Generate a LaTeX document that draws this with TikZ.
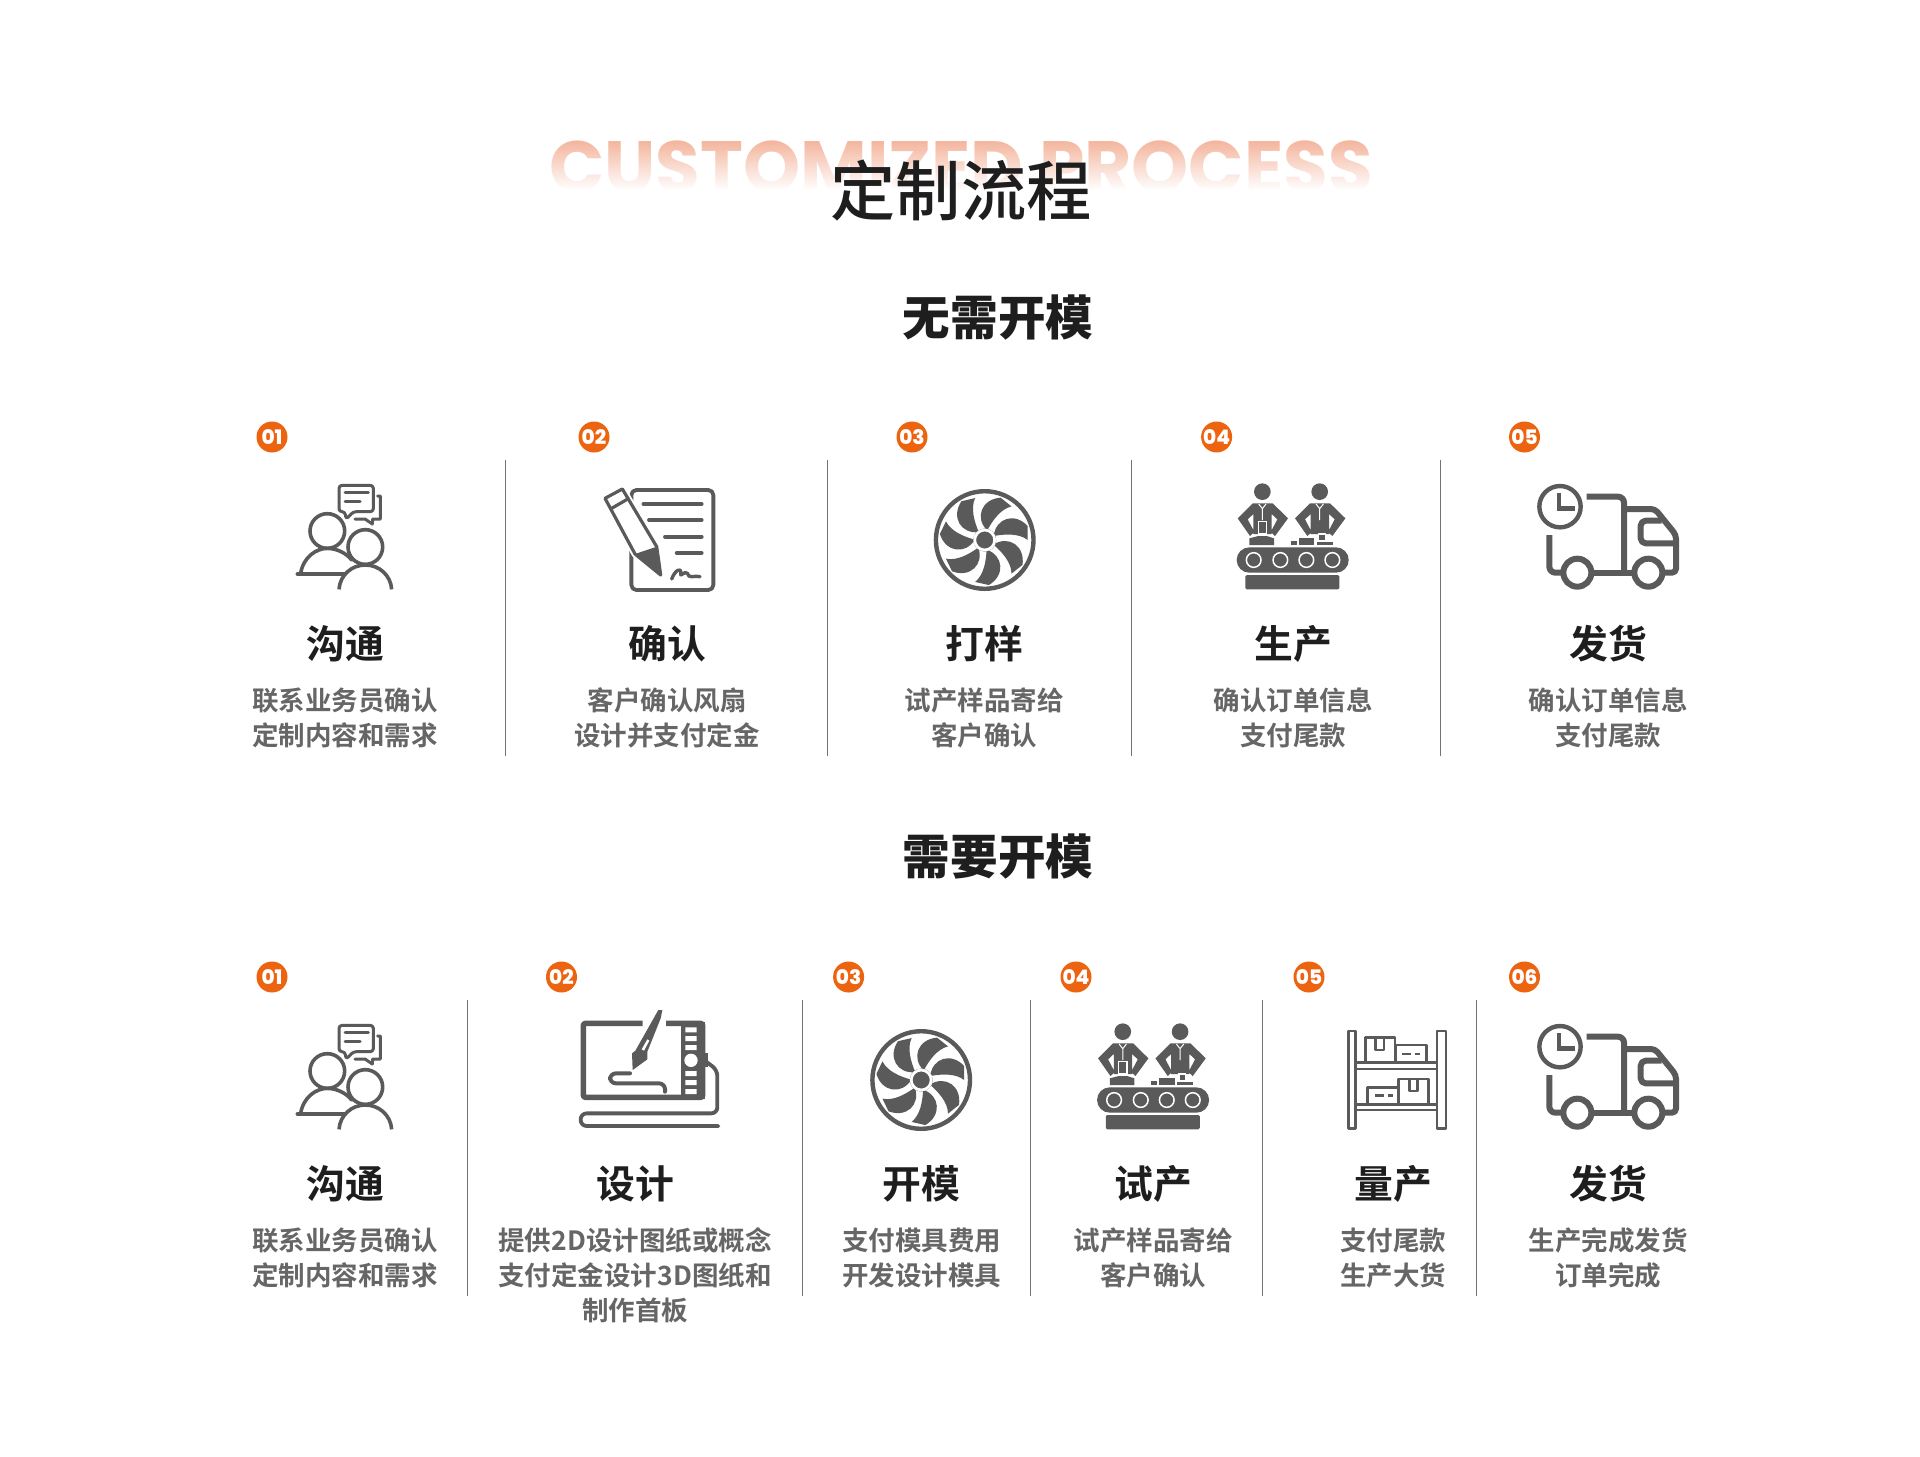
\documentclass[tikz,border=0pt]{standalone}
\usepackage{fontspec}
\usetikzlibrary{fadings}
\setmainfont{Noto Sans CJK SC}[BoldFont=* Bold]
\newfontfamily\popfont{Poppins}[BoldFont=* ExtraBold]
\newfontfamily\ghostfont{Poppins}[BoldFont=* Bold]
\newfontfamily\cjkmid{Noto Sans CJK SC Medium}
\newfontfamily\cjkblack{Noto Sans CJK SC Black}
\definecolor{iconc}{HTML}{5A5A5A}
\definecolor{orangec}{HTML}{EC6410}
\definecolor{titlec}{HTML}{1E1E1E}
\definecolor{descc}{HTML}{666666}
\definecolor{ghostc}{HTML}{F3AE94}
\tikzfading[name=fadeghost,top color=transparent!100,bottom color=transparent!0]
\tikzset{
  numdot/.style={circle,fill=orangec,minimum size=15.5pt,inner sep=0pt,text=white,font=\popfont\bfseries\fontsize{10}{10}\selectfont},
  labeltxt/.style={inner sep=0pt,text=titlec,font=\bfseries\fontsize{19.4}{22}\selectfont},
  desctxt/.style={anchor=north,inner sep=0pt,align=center,text=descc,font=\bfseries\fontsize{13.25}{17.5}\selectfont},
  headtxt/.style={inner sep=0pt,text=titlec,font=\cjkblack\fontsize{23.8}{26}\selectfont},
  divline/.style={draw=iconc!85,line width=0.6pt},
  zoomed/.style={x=0.16667pt,y=-0.16667pt},
  ic/.style={draw=iconc,line width=#1,line cap=round,line join=round},
  pics/peopleicon/.style={code={
    \begin{scope}[shift={(240,410)},zoomed]
      \draw[ic=1.5pt,rounded corners=1.5pt] (315,305)--(297,305)--(297,226)--(400,226)--(400,305)--(340,305)--(318,328)--cycle;
      \draw[ic=1.5pt] (315,248)--(385,248) (315,273)--(360,273);
      \draw[ic=1.5pt] (413,258)--(421,258)--(421,327)--(398,327)--(397,342)--(375,327)--(345,327);
      \draw[ic=1.8pt] (262,363) circle[radius=52];
      \draw[ic=1.8pt] (376,411) circle[radius=52];
      \draw[ic=1.8pt] (172,492)--(315,492);
      \draw[ic=1.8pt] (182,490) .. controls (190,440) and (230,415) .. (262,415) .. controls (290,415) and (320,430) .. (335,450);
      \draw[ic=1.8pt,line cap=butt] (297,538) .. controls (300,495) and (335,465) .. (376,465) .. controls (417,465) and (452,495) .. (455,538);
    \end{scope}}},
  pics/docicon/.style={code={
    \begin{scope}[shift={(240,410)},zoomed]
      \draw[ic=1.9pt,rounded corners=2.5pt] (1174,240) rectangle (1420,540);
      \draw[ic=1.9pt] (1210,282)--(1385,282) (1227,330)--(1385,330) (1275,380)--(1385,380) (1310,429)--(1385,429);
      \draw[white,line width=3.5pt,line join=round] (1095,265)--(1147,237)--(1250,410)--(1262,495)--(1185,432)--cycle;
      \fill[white] (1095,265)--(1147,237)--(1250,410)--(1262,495)--(1185,432)--cycle;
      \draw[ic=1.6pt] (1095,265)--(1147,237)--(1250,410)--(1262,495)--(1185,432)--cycle;
      \draw[ic=1.6pt] (1113,296)--(1165,266);
      \fill[iconc] (1185,432)--(1250,410)--(1262,495)--cycle;
      \draw[ic=1.7pt] (1295,507) .. controls (1305,480) and (1325,470) .. (1322,490) .. controls (1318,505) and (1335,480) .. (1342,490) .. controls (1345,508) and (1365,495) .. (1380,500);
    \end{scope}}},
  pics/fanicon/.style={code={
    \begin{scope}[shift={(984.7,540)},x=0.5pt,y=-0.5pt]
      \draw[iconc,line width=2.2pt] (0,0) circle[radius=48.8];
      \foreach \a in {0,51.43,102.86,154.29,205.71,257.14,308.57}{
        \fill[iconc,rotate=\a] (9,-4) .. controls (11,-22) and (30,-28) .. (43,-14) -- (43,0) .. controls (34,-7) and (20,-6) .. (9,-4) -- cycle;
      }
      \fill[iconc] (0,0) circle[radius=11.5];
      \draw[white,line width=1.4pt] (0,0) circle[radius=10];
    \end{scope}}},
  pics/workericon/.style={code={
    \begin{scope}[shift={(880,410)},zoomed]
      \foreach \d in {0,172}{
        \fill[iconc] (1147+\d,245) circle[radius=25];
        \fill[iconc,line join=round] (1118+\d,280)--(1178+\d,280)--(1224+\d,325)--(1185+\d,378)--(1172+\d,366)--(1192+\d,328)--(1175+\d,312)--(1175+\d,372)--(1120+\d,372)--(1120+\d,312)--(1103+\d,328)--(1123+\d,366)--(1110+\d,378)--(1073+\d,325)--cycle;
        \draw[white,line width=0.5pt] (1136+\d,282)--(1147+\d,296)--(1158+\d,282) (1147+\d,296)--(1147+\d,330);
      }
      \draw[white,fill=iconc,line width=0.7pt] (1135,335) rectangle (1160,372);
      \fill[iconc] (1108,385)--(1135,378)--(1160,378)--(1182,385)--(1182,405)--(1108,405)--cycle;
      \fill[iconc] (1233,393) rectangle (1250,405);
      \fill[iconc] (1257,385) rectangle (1303,405);
      \draw[white,fill=iconc,line width=0.7pt] (1316,372) rectangle (1336,392);
      \fill[iconc] (1310,396) rectangle (1358,405);
      \fill[iconc,rounded corners=6.3pt] (1070,412) rectangle (1406,488);
      \foreach \w in {1121,1201,1279,1357}{
        \draw[white,line width=0.75pt] (\w,450) circle[radius=22];
      }
      \fill[iconc,rounded corners=0.7pt] (1096,495) rectangle (1378,538);
    \end{scope}}},
  pics/truckicon/.style={code={
    \begin{scope}[shift={(1480,450)},zoomed]
      \draw[ic=2.2pt] (240,170) circle[radius=62];
      \draw[ic=2.2pt,line join=miter,line cap=butt] (237,130)--(237,175)--(284,175);
      \draw[ic=3pt,line cap=butt,rounded corners=3pt] (320,140)--(432,140)--(432,368);
      \draw[ic=3pt,line cap=butt,rounded corners=2pt] (432,177)--(525,177)--(588,255)--(588,368)--(550,368);
      \draw[ic=3pt,line cap=butt,rounded corners=2.5pt] (545,212)--(482,212)--(482,280)--(588,280);
      \draw[ic=3pt,line cap=butt,rounded corners=3pt] (208,255)--(208,368)--(245,368);
      \draw[ic=3pt,line cap=butt] (335,368)--(460,368);
      \draw[ic=3pt] (292,368) circle[radius=42];
      \draw[ic=3pt] (505,368) circle[radius=42];
    \end{scope}}},
  pics/tableticon/.style={code={
    \begin{scope}[shift={(560,990)},zoomed]
      \draw[ic=2.7pt,line cap=butt,line join=round,rounded corners=1pt] (248,100)--(70,100)--(70,322)--(428,322)--(428,100)--(318,100);
      \fill[iconc] (362,96) rectangle (435,328);
      \fill[white] (376,112) rectangle (410,127) (376,138) rectangle (410,153) (376,165) rectangle (410,180)
        (376,243) rectangle (410,258) (376,270) rectangle (410,285) (376,297) rectangle (410,312);
      \fill[white] (393,211) circle[radius=20];
      \draw[ic=1.9pt,rounded corners=3pt] (432,210)--(472,240)--(472,370)--(62,370)--(62,408)--(475,408);
      \fill[iconc] (430,190) rectangle (443,232);
      \fill[iconc,line join=round] (295,60)--(307,60)--(302,85)--(262,185)--(262,208)--(218,240)--(216,190)--(226,182)--cycle;
      \fill[white] (245,178)--(262,148)--(268,152)--(252,182)--cycle;
      \draw[ic=2pt,rounded corners=3pt] (210,250)--(150,250)--(150,280)--(315,280)--(315,305);
    \end{scope}}},
  pics/shelficon/.style={code={
    \begin{scope}[shift={(1320,1010)},zoomed]
      \draw[ic=1.2pt,line cap=butt] (85,63) rectangle (107,355) (351,63) rectangle (378,355);
      \draw[ic=1.2pt,line cap=butt] (107,157)--(351,157) (107,177)--(351,177) (107,283)--(351,283) (107,300)--(351,300);
      \draw[ic=1.2pt,line cap=butt] (137,155)--(137,82)--(225,82)--(225,155);
      \draw[ic=1.2pt,line cap=butt] (167,82)--(167,120)--(192,120)--(192,82);
      \draw[ic=1.2pt,line cap=butt] (228,155)--(228,105)--(320,105)--(320,155);
      \draw[ic=1.2pt,line cap=butt] (247,132)--(272,132) (285,132)--(300,132);
      \draw[ic=1.2pt,line cap=butt] (142,283)--(142,232)--(236,232);
      \draw[ic=1.2pt,line cap=butt] (236,283)--(236,207)--(325,207)--(325,283);
      \draw[ic=1.2pt,line cap=butt] (268,207)--(268,243)--(293,243)--(293,207);
      \draw[ic=1.2pt,line cap=butt] (165,257)--(192,257) (205,257)--(220,257);
    \end{scope}}}
}
\begin{document}
\begin{tikzpicture}[x=0.5pt,y=-0.5pt]
\useasboundingbox[fill=white] (0,0) rectangle (1920,1456);
% ghost heading
\node[inner sep=0pt,text=ghostc,font=\ghostfont\bfseries\fontsize{36.3}{40}\selectfont,anchor=base] (ghost) at (961,192) {CUSTOMIZED PROCESS};
\fill[white,path fading=fadeghost] (530,136) rectangle (1390,190);
\fill[white] (530,189) rectangle (1390,215);
\node[inner sep=0pt,text=titlec,font=\cjkmid\fontsize{32.6}{36}\selectfont] (title) at (961,190) {定制流程};
\node[headtxt] (headA) at (998,318) {无需开模};
\node[headtxt] (headB) at (998,857) {需要开模};
% dividers row A
\foreach \x in {505.5,827.5,1131.5,1440.5}{\draw[divline] (\x,460)--(\x,755.7);}
% dividers row B
\foreach \x in {467.5,802.5,1030.5,1262.5,1476.5}{\draw[divline] (\x,1000)--(\x,1295.7);}
% row A
\node[numdot] (na1) at (272,437) {01};
\node[numdot] (na2) at (594,437) {02};
\node[numdot] (na3) at (912,437) {03};
\node[numdot] (na4) at (1216.6,437) {04};
\node[numdot] (na5) at (1524.5,437) {05};
\pic at (0,0) {peopleicon};
\pic at (0,0) {docicon};
\pic at (0,0) {fanicon};
\pic at (0,0) {workericon};
\pic at (0,0) {truckicon};
\node[labeltxt] (la1) at (345,644) {沟通};
\node[labeltxt] (la2) at (667,644) {确认};
\node[labeltxt] (la3) at (984,644) {打样};
\node[labeltxt] (la4) at (1293,644) {生产};
\node[labeltxt] (la5) at (1608,644) {发货};
\node[desctxt] (da1) at (345,687.5) {联系业务员确认\\定制内容和需求};
\node[desctxt] (da2) at (667,687.5) {客户确认风扇\\设计并支付定金};
\node[desctxt] (da3) at (984,687.5) {试产样品寄给\\客户确认};
\node[desctxt] (da4) at (1293,687.5) {确认订单信息\\支付尾款};
\node[desctxt] (da5) at (1608,687.5) {确认订单信息\\支付尾款};
% row B
\node[numdot] (nb1) at (272,977) {01};
\node[numdot] (nb2) at (561.5,977) {02};
\node[numdot] (nb3) at (848.6,977) {03};
\node[numdot] (nb4) at (1076,977) {04};
\node[numdot] (nb5) at (1309,977) {05};
\node[numdot] (nb6) at (1524.5,977) {06};
\pic at (0,540) {peopleicon};
\pic at (0,0) {tableticon};
\pic at (-63.5,540) {fanicon};
\pic at (-139.6,540) {workericon};
\pic at (0,0) {shelficon};
\pic at (0,540) {truckicon};
\node[labeltxt] (lb1) at (345,1184) {沟通};
\node[labeltxt] (lb2) at (635,1184) {设计};
\node[labeltxt] (lb3) at (921.5,1184) {开模};
\node[labeltxt] (lb4) at (1153,1184) {试产};
\node[labeltxt] (lb5) at (1393,1184) {量产};
\node[labeltxt] (lb6) at (1608,1184) {发货};
\node[desctxt] (db1) at (345,1227.5) {联系业务员确认\\定制内容和需求};
\node[desctxt] (db2) at (635,1227.5) {提供2D设计图纸或概念\\支付定金设计3D图纸和\\制作首板};
\node[desctxt] (db3) at (921.5,1227.5) {支付模具费用\\开发设计模具};
\node[desctxt] (db4) at (1153,1227.5) {试产样品寄给\\客户确认};
\node[desctxt] (db5) at (1393,1227.5) {支付尾款\\生产大货};
\node[desctxt] (db6) at (1608,1227.5) {生产完成发货\\订单完成};
\end{tikzpicture}
\end{document}
